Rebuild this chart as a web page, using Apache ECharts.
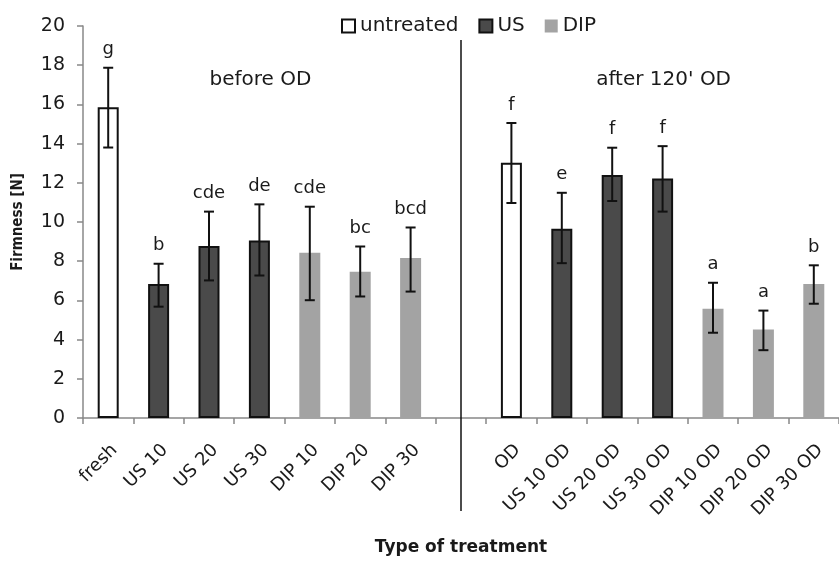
<!DOCTYPE html>
<html><head><meta charset="utf-8">
<script src="https://cdn.jsdelivr.net/npm/echarts@6/dist/echarts.min.js"></script>
<style>html,body{margin:0;padding:0;background:#fff}#c{width:839px;height:561px}</style>
</head><body><div id="c"></div>
<script>
var categories = ['fresh','US 10','US 20','US 30','DIP 10','DIP 20','DIP 30','','OD','US 10 OD','US 20 OD','US 30 OD','DIP 10 OD','DIP 20 OD','DIP 30 OD'];
var groups = ['untreated','US','US','US','DIP','DIP','DIP',null,'untreated','US','US','US','DIP','DIP','DIP'];
var means = [15.85, 6.84, 8.77, 9.05, 8.43, 7.46, 8.16, null, 13.02, 9.65, 12.40, 12.22, 5.58, 4.52, 6.84];
var errLow = [13.80, 5.68, 7.02, 7.27, 6.01, 6.20, 6.45, null, 10.97, 7.90, 11.07, 10.53, 4.35, 3.46, 5.83];
var errHigh = [17.87, 7.87, 10.53, 10.90, 10.78, 8.75, 9.72, null, 15.05, 11.49, 13.79, 13.87, 6.90, 5.48, 7.79];
var letters = ['g','b','cde','de','cde','bc','bcd','','f','e','f','f','a','a','b'];
var yTicks = [0,2,4,6,8,10,12,14,16,18,20];
var seriesNames = ['untreated','US','DIP'];

var FONT = '"DejaVu Sans", sans-serif';
var FONTC = '"DejaVu Sans Condensed", "DejaVu Sans", sans-serif';
var styles = {
  'untreated': {color:'#ffffff', borderColor:'#111', borderWidth:2},
  'US': {color:'#4a4a4a', borderColor:'#111', borderWidth:2},
  'DIP': {color:'#a3a3a3', borderColor:'#a3a3a3', borderWidth:0}
};

var barSeries = seriesNames.map(function(n){
  return {
    name:n, type:'bar', stack:'s', barWidth:21,
    itemStyle: styles[n],
    data: means.map(function(v,i){ return groups[i]===n ? v : '-'; }),
    z:2
  };
});

var errData = [];
for (var i=0;i<categories.length;i++){ if (errLow[i]!=null) errData.push([i, errLow[i], errHigh[i]]); }

var errSeries = {
  type:'custom', z:5, silent:true,
  data: errData,
  renderItem: function(params, api){
    var idx = api.value(0);
    var lo = api.coord([idx, api.value(1)]);
    var hi = api.coord([idx, api.value(2)]);
    var cap = 5;
    var st = {stroke:'#111', lineWidth:2};
    return {type:'group', children:[
      {type:'line', shape:{x1:lo[0],y1:lo[1],x2:hi[0],y2:hi[1]}, style:st},
      {type:'line', shape:{x1:hi[0]-cap,y1:hi[1],x2:hi[0]+cap,y2:hi[1]}, style:st},
      {type:'line', shape:{x1:lo[0]-cap,y1:lo[1],x2:lo[0]+cap,y2:lo[1]}, style:st},
      {type:'text', style:{text:letters[idx], x:hi[0], y:hi[1]-9, textAlign:'center', textVerticalAlign:'bottom', font:'18px '+FONT, fill:'#1a1a1a'}}
    ]};
  }
};

var chart = echarts.init(document.getElementById('c'), null, {renderer:'canvas'});
chart.setOption({
  animation:false,
  backgroundColor:'#fff',
  textStyle:{fontFamily:FONT},
  grid:{left:83, top:26, width:764, height:397, containLabel:false},
  legend:{
    data: seriesNames, left:336, top:11, itemWidth:13, itemHeight:13, itemGap:20,
    textStyle:{fontSize:20, color:'#1a1a1a', fontFamily:FONT}, icon:'rect'
  },
  xAxis:{
    type:'category', data:categories,
    axisLine:{lineStyle:{color:'#888', width:1.5}},
    axisTick:{show:true, length:6, lineStyle:{color:'#888', width:1.5}},
    axisLabel:{rotate:45, fontSize:18, color:'#1a1a1a', margin:23, interval:0, fontFamily:FONT,
      align:'right', verticalAlign:'top'},
    name:'Type of treatment', nameLocation:'middle', nameGap:121,
    nameTextStyle:{fontSize:17, fontWeight:'bold', color:'#1a1a1a', fontFamily:FONT}
  },
  yAxis:{
    type:'value', min:0, max:20, interval:2,
    axisLine:{show:true, lineStyle:{color:'#888', width:1.5}},
    axisTick:{show:true, length:6, lineStyle:{color:'#888', width:1.5}},
    axisLabel:{fontSize:19, color:'#1a1a1a', margin:18, fontFamily:FONT,
      formatter:function(v){ return yTicks.indexOf(v)>=0 ? String(v) : ''; }},
    splitLine:{show:false},
    name:'Firmness [N]', nameLocation:'middle', nameGap:57,
    nameTextStyle:{fontSize:15, fontWeight:'bold', color:'#1a1a1a', fontFamily:FONTC}
  },
  series: barSeries.concat([errSeries])
});

var gapX = chart.convertToPixel({xAxisIndex:0}, 7);
var leftMid = (chart.convertToPixel({xAxisIndex:0}, 0) + chart.convertToPixel({xAxisIndex:0}, 6))/2;
var rightMid = (chart.convertToPixel({xAxisIndex:0}, 8) + chart.convertToPixel({xAxisIndex:0}, 14))/2;
chart.setOption({
  graphic:[
    {type:'line', shape:{x1:gapX, y1:40, x2:gapX, y2:511}, style:{stroke:'#111', lineWidth:1.5}, z:10},
    {type:'text', style:{text:'before OD', x:leftMid+1, y:80, textAlign:'center', textVerticalAlign:'middle', font:'20px '+FONT, fill:'#1a1a1a'}},
    {type:'text', style:{text:"after 120' OD", x:rightMid+1, y:80, textAlign:'center', textVerticalAlign:'middle', font:'20px '+FONT, fill:'#1a1a1a'}}
  ]
});
</script></body></html>
